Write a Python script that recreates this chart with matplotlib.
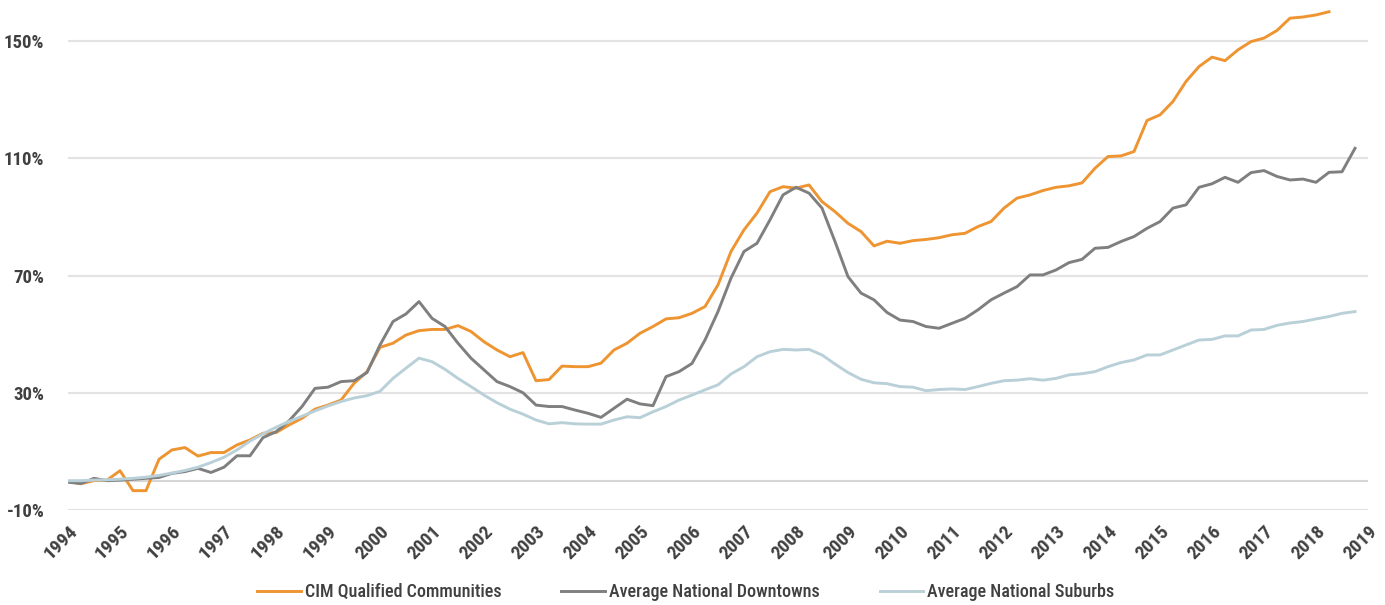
import matplotlib
matplotlib.use("Agg")
import matplotlib.pyplot as plt
import numpy as np

# Quarterly index values (%), starting 1994 Q1
cim_qualified = [
    -0.3, -1.0, 0.0, 0.2, 3.4, -3.4, -3.4, 7.3, 10.5, 11.3,
    8.4, 9.6, 9.6, 12.2, 13.9, 16.2, 16.4, 19.0, 21.3, 24.4,
    25.8, 27.5, 33.2, 37.2, 45.5, 46.9, 49.7, 51.2, 51.6, 51.6,
    52.9, 50.9, 47.4, 44.6, 42.3, 43.7, 34.1, 34.5, 39.1, 38.9,
    38.9, 40.1, 44.6, 46.9, 50.3, 52.6, 55.2, 55.6, 57.1, 59.4,
    66.8, 78.2, 85.6, 91.3, 98.6, 100.3, 99.8, 100.9, 95.2, 91.8,
    87.8, 85.0, 80.1, 81.7, 81.0, 81.9, 82.3, 82.9, 83.9, 84.4,
    86.7, 88.4, 93.0, 96.4, 97.5, 99.0, 100.1, 100.6, 101.6, 106.6,
    110.6, 110.8, 112.3, 122.9, 124.8, 129.4, 136.2, 141.3, 144.5, 143.3,
    147.0, 149.8, 151.0, 153.6, 157.8, 158.2, 158.9, 160.0,
]
downtowns = [
    -0.5, -1.0, 0.8, 0.0, 0.2, 0.5, 0.8, 1.1, 2.5, 3.1,
    4.2, 2.8, 4.6, 8.5, 8.5, 14.7, 16.7, 20.4, 25.3, 31.5,
    31.9, 33.8, 34.1, 36.9, 46.3, 54.3, 56.9, 61.1, 55.4, 52.6,
    46.9, 41.8, 37.8, 33.8, 32.1, 30.0, 25.8, 25.3, 25.3, 24.1,
    23.0, 21.6, 24.7, 27.8, 26.2, 25.6, 35.5, 37.2, 40.0, 48.0,
    57.7, 69.1, 78.2, 81.0, 89.0, 97.5, 100.1, 98.1, 93.0, 81.6,
    69.6, 64.0, 61.7, 57.4, 54.8, 54.3, 52.6, 52.0, 53.7, 55.4,
    58.3, 61.7, 64.0, 66.2, 70.2, 70.2, 71.9, 74.4, 75.5, 79.3,
    79.6, 81.6, 83.3, 86.1, 88.4, 93.0, 94.1, 100.1, 101.3, 103.5,
    101.8, 105.1, 105.8, 103.8, 102.6, 102.9, 101.8, 105.2, 105.4, 113.4,
]
suburbs = [
    0.0, 0.0, 0.2, 0.3, 0.5, 0.8, 1.2, 1.8, 2.6, 3.5,
    4.6, 6.2, 8.0, 10.5, 13.5, 16.0, 18.2, 20.2, 22.0, 23.8,
    25.5, 27.0, 28.2, 29.0, 30.5, 34.9, 38.4, 41.8, 40.6, 38.0,
    34.9, 32.1, 29.2, 26.6, 24.4, 22.7, 20.7, 19.4, 19.8, 19.4,
    19.3, 19.3, 20.7, 21.8, 21.5, 23.5, 25.3, 27.5, 29.2, 31.0,
    32.7, 36.4, 38.9, 42.3, 44.0, 44.8, 44.6, 44.8, 42.9, 39.8,
    36.9, 34.6, 33.4, 33.1, 32.1, 31.9, 30.7, 31.1, 31.3, 31.1,
    32.1, 33.2, 34.1, 34.3, 34.8, 34.3, 34.9, 36.1, 36.5, 37.2,
    38.9, 40.3, 41.2, 42.9, 42.9, 44.6, 46.3, 48.0, 48.2, 49.4,
    49.4, 51.4, 51.6, 53.0, 53.8, 54.3, 55.2, 56.0, 57.1, 57.7,
]
series_names = ["CIM Qualified Communities", "Average National Downtowns", "Average National Suburbs"]
year_ticks = list(range(1994, 2020))
y_ticks = [-10, 30, 70, 110, 150]

colors = ["#EE9431", "#7F7F80", "#B9D0D8"]
font = ["Roboto Condensed", "Liberation Sans Narrow", "Roboto", "DejaVu Sans"]
plt.rcParams["font.family"] = font
text_color = "#404040"

fig = plt.figure(figsize=(13.85, 6.05), dpi=100)
ax = fig.add_axes([68 / 1385, 95 / 605, 1300 / 1385, 510 / 605])

for data, name, c in zip([cim_qualified, downtowns, suburbs], series_names, colors):
    x = 1994 + np.arange(len(data)) / 4.0
    ax.plot(x, data, color=c, lw=2.1, label=name, solid_joinstyle="round", zorder=3)

ax.set_xlim(1994, 2019)
ax.set_ylim(-10, 164)
ax.set_yticks(y_ticks)
ax.set_yticklabels([f"{v}%" for v in y_ticks], fontsize=13.5, fontweight="bold", color=text_color)
ax.set_xticks(year_ticks)
ax.set_xticklabels([str(y) for y in year_ticks], rotation=45, ha="right", va="top",
                   rotation_mode="anchor", fontsize=14, fontweight="bold", color=text_color)
ax.tick_params(axis="both", length=0)
ax.tick_params(axis="x", pad=9)
ax.tick_params(axis="y", pad=17)
for s in ax.spines.values():
    s.set_visible(False)
ax.grid(axis="y", color="#E3E3E3", lw=1.5, zorder=0)
ax.grid(axis="x", visible=False)
ax.axhline(0, color="#D6D6D6", lw=1.5, zorder=1)

leg = fig.legend(loc="center", bbox_to_anchor=(686 / 1385, 13 / 605), ncol=3, frameon=False,
                 fontsize=13, handlelength=2.4, columnspacing=3.3, handletextpad=0.25)
for t in leg.get_texts():
    t.set_color(text_color)
    t.set_fontweight("medium")

fig.savefig("out.png", dpi=100)
